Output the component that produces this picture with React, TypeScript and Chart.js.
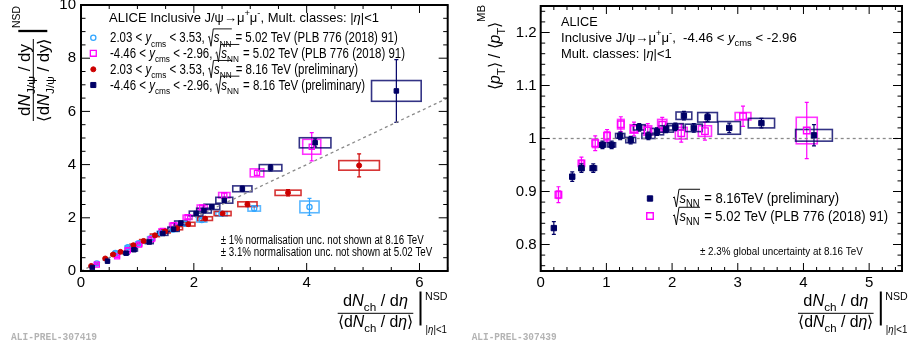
import React, { useEffect, useRef } from 'react';
import { Chart, registerables } from 'chart.js';
Chart.register(...registerables);

const FONT = '"Liberation Sans", Arial, Helvetica, sans-serif';

// ---------------- Left panel: relative J/psi yield vs relative multiplicity ----------------
// 2.03 < y < 3.53, 5.02 TeV (open circles, light blue)
const lbX = [0.28, 0.61, 0.83, 1.02, 1.24, 1.42, 1.63, 1.84, 2.14, 2.49, 3.07, 4.05];
const lbY = [0.28, 0.68, 0.89, 1.04, 1.23, 1.43, 1.56, 1.78, 1.92, 2.15, 2.35, 2.41];
const lbStat = [0.03, 0.04, 0.04, 0.05, 0.05, 0.05, 0.06, 0.06, 0.07, 0.08, 0.1, 0.32];
const lbSysX = [0.02, 0.04, 0.05, 0.05, 0.06, 0.07, 0.08, 0.09, 0.09, 0.1, 0.11, 0.17];
const lbSysY = [0.03, 0.04, 0.05, 0.05, 0.06, 0.06, 0.07, 0.07, 0.08, 0.08, 0.1, 0.22];

// -4.46 < y < -2.96, 5.02 TeV (open squares, magenta)
const mgX = [0.28, 0.64, 0.83, 1.03, 1.25, 1.45, 1.64, 1.89, 2.15, 2.54, 3.12, 4.09];
const mgY = [0.24, 0.55, 0.78, 0.99, 1.2, 1.51, 1.72, 2.02, 2.39, 2.85, 3.69, 4.67];
const mgStat = [0.02, 0.03, 0.04, 0.04, 0.05, 0.05, 0.06, 0.06, 0.07, 0.08, 0.1, 0.53];
const mgSysX = [0.02, 0.04, 0.05, 0.05, 0.06, 0.07, 0.07, 0.08, 0.09, 0.1, 0.12, 0.16];
const mgSysY = [0.02, 0.04, 0.05, 0.05, 0.06, 0.07, 0.08, 0.08, 0.09, 0.1, 0.15, 0.28];

// 2.03 < y < 3.53, 8.16 TeV (filled circles, red)
const rdX = [0.18, 0.43, 0.57, 0.7, 0.93, 1.11, 1.31, 1.49, 1.7, 1.9, 2.2, 2.51, 2.95, 3.67, 4.93];
const rdY = [0.19, 0.47, 0.62, 0.72, 0.97, 1.13, 1.34, 1.49, 1.61, 1.76, 1.97, 2.16, 2.51, 2.94, 3.97];
const rdStat = [0.02, 0.03, 0.03, 0.03, 0.04, 0.04, 0.05, 0.05, 0.05, 0.06, 0.06, 0.07, 0.09, 0.12, 0.43];
const rdSysX = [0.01, 0.03, 0.04, 0.04, 0.06, 0.07, 0.08, 0.09, 0.1, 0.12, 0.13, 0.15, 0.17, 0.23, 0.36];
const rdSysY = [0.02, 0.03, 0.03, 0.03, 0.04, 0.05, 0.05, 0.06, 0.06, 0.07, 0.07, 0.08, 0.09, 0.1, 0.18];

// -4.46 < y < -2.96, 8.16 TeV (filled squares, navy)
const nvX = [0.2, 0.47, 0.8, 0.94, 1.21, 1.45, 1.64, 1.77, 2.04, 2.18, 2.32, 2.54, 2.86, 3.36, 4.15, 5.59];
const nvY = [0.13, 0.37, 0.67, 0.8, 1.09, 1.41, 1.57, 1.8, 2.16, 2.27, 2.41, 2.66, 3.09, 3.88, 4.82, 6.77];
const nvStat = [0.02, 0.03, 0.04, 0.04, 0.05, 0.05, 0.06, 0.06, 0.07, 0.07, 0.08, 0.08, 0.1, 0.12, 0.15, 1.18];
const nvSysX = [0.01, 0.03, 0.05, 0.06, 0.07, 0.09, 0.1, 0.11, 0.12, 0.13, 0.14, 0.15, 0.17, 0.2, 0.28, 0.44];
const nvSysY = [0.01, 0.02, 0.04, 0.05, 0.06, 0.07, 0.08, 0.08, 0.09, 0.09, 0.1, 0.11, 0.11, 0.12, 0.19, 0.39];

const diagX = [0, 6.5];
const diagY = [0, 6.5];
const leftXTicks = [0, 2, 4, 6];
const leftYTicks = [0, 2, 4, 6, 8, 10];

// ---------------- Right panel: <pT>/<pT>MB vs relative multiplicity ----------------
const pnX = [0.2, 0.48, 0.62, 0.8, 0.94, 1.08, 1.21, 1.37, 1.5, 1.64, 1.77, 1.91, 2.05, 2.18, 2.33, 2.54, 2.87, 3.36, 4.16];
const pnY = [0.831, 0.928, 0.944, 0.944, 0.988, 0.988, 1.005, 0.997, 1.021, 1.005, 1.013, 1.018, 1.022, 1.043, 1.02, 1.04, 1.02, 1.029, 1.006];
const pnStat = [0.012, 0.009, 0.008, 0.008, 0.007, 0.007, 0.007, 0.007, 0.007, 0.007, 0.007, 0.007, 0.007, 0.008, 0.008, 0.008, 0.009, 0.009, 0.02];
const pnSysX = [0.01, 0.03, 0.04, 0.05, 0.05, 0.06, 0.07, 0.075, 0.09, 0.1, 0.1, 0.11, 0.12, 0.12, 0.13, 0.15, 0.17, 0.2, 0.28];
const pnSysY = [0.003, 0.004, 0.004, 0.004, 0.004, 0.004, 0.0045, 0.005, 0.005, 0.005, 0.006, 0.006, 0.006, 0.007, 0.007, 0.009, 0.012, 0.009, 0.011];

const pmX = [0.27, 0.62, 0.83, 1.01, 1.22, 1.42, 1.63, 1.85, 2.14, 2.5, 3.08, 4.05];
const pmY = [0.894, 0.953, 0.991, 1.005, 1.027, 1.018, 1.015, 1.026, 1.01, 1.014, 1.042, 1.015];
const pmStat = [0.015, 0.012, 0.014, 0.012, 0.014, 0.013, 0.013, 0.014, 0.017, 0.017, 0.019, 0.053];
const pmSysX = [0.03, 0.03, 0.04, 0.04, 0.05, 0.06, 0.06, 0.07, 0.09, 0.1, 0.12, 0.16];
const pmSysY = [0.007, 0.006, 0.008, 0.008, 0.009, 0.008, 0.009, 0.01, 0.011, 0.01, 0.007, 0.025];

const unityX = [0, 5.5];
const unityY = [1, 1];
const rightXTicks = [0, 1, 2, 3, 4, 5];
const rightYTicks = [0.8, 0.9, 1, 1.1, 1.2];

// colours
const C_LB = '#33a6ff';
const C_MG = '#ff00ff';
const C_RD = '#cc0000';
const C_NV = '#000066';

// ---------------- rich text helpers ----------------
type Seg = { t: string; k: string; dy?: number };
const N = (t: string): Seg => ({ t, k: 'n' });
const It = (t: string): Seg => ({ t, k: 'i' });
const Sub = (t: string): Seg => ({ t, k: 'sub' });
const Sup = (t: string, dy?: number): Seg => ({ t, k: 'sup', dy });
const RO: Seg = { t: '', k: 'ro' };
const RC: Seg = { t: '', k: 'rc' };

function fnt(size: number, italic: boolean) {
  return `${italic ? 'italic ' : ''}${size}px ${FONT}`;
}

function runRich(ctx: CanvasRenderingContext2D, segs: Seg[], size: number, draw: boolean) {
  let x = 0;
  let radStart = 0;
  for (const g of segs) {
    if (g.k === 'ro') {
      if (draw) {
        ctx.beginPath();
        ctx.moveTo(x, -0.36 * size);
        ctx.lineTo(x + 0.1 * size, -0.44 * size);
        ctx.lineTo(x + 0.26 * size, 0.28 * size);
        ctx.lineTo(x + 0.46 * size, -0.98 * size);
        ctx.stroke();
      }
      radStart = x + 0.46 * size;
      x += 0.5 * size;
      continue;
    }
    if (g.k === 'rc') {
      if (draw) {
        ctx.beginPath();
        ctx.moveTo(radStart, -0.98 * size);
        ctx.lineTo(x + 0.04 * size, -0.98 * size);
        ctx.stroke();
      }
      x += 0.08 * size;
      continue;
    }
    const small = g.k === 'sub' || g.k === 'sup';
    const s = small ? size * 0.72 : size;
    ctx.font = fnt(s, g.k === 'i');
    const dy = g.dy !== undefined ? g.dy * size : g.k === 'sub' ? 0.32 * size : g.k === 'sup' ? -0.42 * size : 0;
    if (draw) ctx.fillText(g.t, x, dy);
    x += ctx.measureText(g.t).width;
  }
  return x;
}

function drawRich(ctx: CanvasRenderingContext2D, x: number, y: number, segs: Seg[], size: number, align: string = 'left', width?: number) {
  ctx.save();
  ctx.textAlign = 'left';
  ctx.textBaseline = 'alphabetic';
  ctx.fillStyle = '#000';
  ctx.strokeStyle = '#000';
  ctx.lineWidth = Math.max(0.8, size / 14);
  const w = runRich(ctx, segs, size, false);
  const sx = width ? width / w : 1;
  const W = w * sx;
  const x0 = align === 'center' ? x - W / 2 : align === 'right' ? x - W : x;
  ctx.translate(x0, y);
  ctx.scale(sx, 1);
  runRich(ctx, segs, size, true);
  ctx.restore();
}

function line(ctx: CanvasRenderingContext2D, x0: number, y0: number, x1: number, y1: number) {
  ctx.beginPath();
  ctx.moveTo(x0, y0);
  ctx.lineTo(x1, y1);
  ctx.stroke();
}

function marker(ctx: CanvasRenderingContext2D, x: number, y: number, style: string, r: number, color: string, filled: boolean, bw: number) {
  ctx.save();
  ctx.lineWidth = bw;
  ctx.strokeStyle = color;
  ctx.fillStyle = color;
  ctx.beginPath();
  if (style === 'circle') ctx.arc(x, y, r, 0, Math.PI * 2);
  else {
    const h = r * Math.SQRT1_2;
    ctx.rect(x - h, y - h, 2 * h, 2 * h);
  }
  if (filled) ctx.fill();
  ctx.stroke();
  ctx.restore();
}

function watermark(ctx: CanvasRenderingContext2D, text: string, x: number, y: number, w: number) {
  ctx.save();
  ctx.font = `bold 10px "Liberation Mono", "DejaVu Sans Mono", monospace`;
  ctx.fillStyle = '#b4b4b4';
  ctx.textBaseline = 'alphabetic';
  ctx.fillText(text, x, y, w);
  ctx.restore();
}

function xTitle(ctx: CanvasRenderingContext2D, cx: number) {
  const ly = 313.3;
  drawRich(ctx, cx, 306, [N('d'), It('N'), Sub('ch'), N(' / d'), It('η')], 16, 'center', 65);
  ctx.save();
  ctx.strokeStyle = '#000';
  ctx.lineWidth = 1;
  line(ctx, cx - 37.8, ly, cx + 37.8, ly);
  ctx.lineWidth = 2;
  line(ctx, cx + 45, 291.5, cx + 45, 325.5);
  ctx.restore();
  drawRich(ctx, cx, 327, [N('⟨d'), It('N'), Sub('ch'), N(' / d'), It('η'), N('⟩')], 16, 'center', 75);
  drawRich(ctx, cx + 49.5, 299.5, [N('NSD')], 10.5, 'left', 22.5);
  drawRich(ctx, cx + 50, 332.5, [N('|'), It('η'), N('|<1')], 10, 'left', 21.5);
}

// ---------------- chart plumbing ----------------
const pts = (xs: number[], ys: number[]) => xs.map((x, i) => ({ x, y: ys[i] }));

function series(label: string, xs: number[], ys: number[], stat: number[], sx: number[], sy: number[], color: string, style: string, radius: number, filled: boolean, bw: number, order: number) {
  return {
    type: 'scatter',
    label,
    data: pts(xs, ys),
    pointStyle: style,
    pointRadius: radius,
    pointHoverRadius: radius,
    backgroundColor: filled ? color : 'rgba(0,0,0,0)',
    borderColor: color,
    borderWidth: bw,
    errY: stat,
    sysX: sx,
    sysY: sy,
    order,
  };
}

function refLine(xs: number[], ys: number[]) {
  return {
    type: 'line',
    data: pts(xs, ys),
    borderColor: '#8a8a8a',
    borderWidth: 1.3,
    borderDash: [3, 3],
    pointRadius: 0,
    showLine: true,
    fill: false,
    order: 20,
  };
}

const errPlugin = {
  id: 'errBoxes',
  beforeDatasetsDraw(chart: any) {
    const { ctx, chartArea: a, scales } = chart;
    const x = scales.x;
    const y = scales.y;
    ctx.save();
    ctx.beginPath();
    ctx.rect(a.left, a.top, a.right - a.left, a.bottom - a.top);
    ctx.clip();
    chart.data.datasets.forEach((ds: any) => {
      if (!ds.errY) return;
      ds.data.forEach((p: any, i: number) => {
        const x0 = x.getPixelForValue(p.x - ds.sysX[i]);
        const x1 = x.getPixelForValue(p.x + ds.sysX[i]);
        const y0 = y.getPixelForValue(p.y + ds.sysY[i]);
        const y1 = y.getPixelForValue(p.y - ds.sysY[i]);
        ctx.globalAlpha = 0.8;
        ctx.strokeStyle = ds.borderColor;
        ctx.lineWidth = 1.6;
        ctx.strokeRect(x0, y0, x1 - x0, y1 - y0);
        ctx.globalAlpha = 1;
        const px = x.getPixelForValue(p.x);
        const e0 = y.getPixelForValue(p.y + ds.errY[i]);
        const e1 = y.getPixelForValue(p.y - ds.errY[i]);
        ctx.lineWidth = 1.2;
        line(ctx, px, e0, px, e1);
        line(ctx, px - 2, e0, px + 2, e0);
        line(ctx, px - 2, e1, px + 2, e1);
      });
    });
    ctx.restore();
  },
};

function frameAndTicks(chart: any, xMinor: number, xMajor: number, yMinor: number, yMajor: number) {
  const { ctx, chartArea: a, scales } = chart;
  const x = scales.x;
  const y = scales.y;
  ctx.save();
  ctx.strokeStyle = '#000';
  ctx.lineWidth = 1;
  const isMaj = (v: number, m: number) => Math.abs(v / m - Math.round(v / m)) < 1e-6;
  for (let k = Math.ceil(x.min / xMinor - 1e-9); k * xMinor <= x.max + 1e-9; k++) {
    const v = k * xMinor;
    const L = isMaj(v, xMajor) ? 8 : 4;
    const px = x.getPixelForValue(v);
    line(ctx, px, a.bottom, px, a.bottom - L);
    line(ctx, px, a.top, px, a.top + L);
  }
  for (let k = Math.ceil(y.min / yMinor - 1e-9); k * yMinor <= y.max + 1e-9; k++) {
    const v = k * yMinor;
    const L = isMaj(v, yMajor) ? 9 : 4.5;
    const py = y.getPixelForValue(v);
    line(ctx, a.left, py, a.left + L, py);
    line(ctx, a.right, py, a.right - L, py);
  }
  ctx.lineWidth = 2;
  ctx.strokeRect(a.left, a.top, a.right - a.left, a.bottom - a.top);
  ctx.restore();
}

const fmt = (v: any) => String(Math.round(Number(v) * 1000) / 1000);

function options(xmin: number, xmax: number, xTicks: number[], ymin: number, ymax: number, yTicks: number[], yWidth: number, rightPad: number, yPad: number) {
  return {
    responsive: false,
    animation: false,
    devicePixelRatio: 1,
    events: [],
    layout: { padding: { left: 0, right: rightPad, top: 5, bottom: 0 } },
    plugins: { legend: { display: false }, tooltip: { enabled: false } },
    scales: {
      x: {
        type: 'linear',
        min: xmin,
        max: xmax,
        grid: { display: false, drawTicks: false },
        border: { display: false },
        ticks: { color: '#000', font: { size: 15, family: FONT }, padding: 3, maxRotation: 0, autoSkip: false, callback: fmt },
        afterBuildTicks: (s: any) => {
          s.ticks = xTicks.map((value) => ({ value }));
        },
        afterFit: (s: any) => {
          s.height = 76;
          s.paddingLeft = 0;
          s.paddingRight = 0;
        },
      },
      y: {
        type: 'linear',
        min: ymin,
        max: ymax,
        grid: { display: false, drawTicks: false },
        border: { display: false },
        ticks: { color: '#000', font: { size: 15, family: FONT }, padding: yPad, autoSkip: false, callback: fmt },
        afterBuildTicks: (s: any) => {
          s.ticks = yTicks.map((value) => ({ value }));
        },
        afterFit: (s: any) => {
          s.width = yWidth;
          s.paddingTop = 0;
          s.paddingBottom = 0;
        },
      },
    },
  };
}

function buildLeft(canvas: HTMLCanvasElement) {
  const deco = {
    id: 'leftDeco',
    afterDraw(chart: any) {
      const ctx = chart.ctx as CanvasRenderingContext2D;
      frameAndTicks(chart, 0.5, 2, 0.5, 2);
      drawRich(ctx, 109, 21.5, [N('ALICE Inclusive J/ψ→μ'), Sup('+'), N('μ'), Sup('-'), N(', Mult. classes: |'), It('η'), N('|<1')], 13.5, 'left', 270);
      marker(ctx, 93.3, 37.7, 'circle', 2.6, C_LB, false, 1.3);
      marker(ctx, 93.3, 53.3, 'rect', 4.2, C_MG, false, 1.3);
      marker(ctx, 93.3, 69.3, 'circle', 2.5, C_RD, true, 1);
      marker(ctx, 93.3, 85, 'rect', 3.6, C_NV, true, 1);
      const L = 13.8;
      drawRich(ctx, 110, 42.4, [N('2.03 < '), It('y'), Sub('cms'), N(' < 3.53, '), RO, It('s'), Sub('NN'), RC, N(' = 5.02 TeV (PLB 776 (2018) 91)')], L, 'left', 287.7);
      drawRich(ctx, 110, 58, [N('-4.46 < '), It('y'), Sub('cms'), N(' < -2.96, '), RO, It('s'), Sub('NN'), RC, N(' = 5.02 TeV (PLB 776 (2018) 91)')], L, 'left', 295);
      drawRich(ctx, 110, 74, [N('2.03 < '), It('y'), Sub('cms'), N(' < 3.53, '), RO, It('s'), Sub('NN'), RC, N(' = 8.16 TeV (preliminary)')], L, 'left', 248);
      drawRich(ctx, 110, 89.7, [N('-4.46 < '), It('y'), Sub('cms'), N(' < -2.96, '), RO, It('s'), Sub('NN'), RC, N(' = 8.16 TeV (preliminary)')], L, 'left', 255);
      drawRich(ctx, 220.7, 244.3, [N('± 1% normalisation unc. not shown at 8.16 TeV')], 12, 'left', 203);
      drawRich(ctx, 220.7, 256, [N('± 3.1% normalisation unc. not shown at 5.02 TeV')], 12, 'left', 211.6);
      xTitle(ctx, 375.5);
      // y title (rotated)
      ctx.save();
      ctx.translate(33.3, 80);
      ctx.rotate(-Math.PI / 2);
      drawRich(ctx, 0, -3.5, [N('d'), It('N'), Sub('J/ψ'), N(' / dy')], 16, 'center', 72);
      ctx.strokeStyle = '#000';
      ctx.lineWidth = 1;
      line(ctx, -41, 0, 41, 0);
      drawRich(ctx, 0, 15.5, [N('⟨d'), It('N'), Sub('J/ψ'), N(' / dy⟩')], 16, 'center', 83);
      ctx.lineWidth = 2.3;
      line(ctx, 49, -15, 49, 14);
      drawRich(ctx, 52, -13.3, [N('NSD')], 10.5, 'left', 22);
      ctx.restore();
      watermark(ctx, 'ALI-PREL-307419', 11, 340, 86);
    },
  };
  return new Chart(canvas, {
    type: 'scatter',
    data: {
      datasets: [
        refLine(diagX, diagY),
        series('lb', lbX, lbY, lbStat, lbSysX, lbSysY, C_LB, 'circle', 2.6, false, 1.3, 4),
        series('mg', mgX, mgY, mgStat, mgSysX, mgSysY, C_MG, 'rect', 3.6, false, 1.3, 3),
        series('rd', rdX, rdY, rdStat, rdSysX, rdSysY, C_RD, 'circle', 2.5, true, 1, 2),
        series('nv', nvX, nvY, nvStat, nvSysX, nvSysY, C_NV, 'rect', 3.2, true, 1, 1),
      ],
    } as any,
    options: options(0, 6.5, leftXTicks, 0, 10, leftYTicks, 81, 6.3, 5) as any,
    plugins: [errPlugin, deco],
  });
}

function buildRight(canvas: HTMLCanvasElement) {
  const deco = {
    id: 'rightDeco',
    afterDraw(chart: any) {
      const ctx = chart.ctx as CanvasRenderingContext2D;
      frameAndTicks(chart, 0.2, 1, 0.02, 0.1);
      drawRich(ctx, 107, 26, [N('ALICE')], 13.5, 'left', 36.7);
      drawRich(ctx, 107, 41.7, [N('Inclusive J/ψ→μ'), Sup('+'), N('μ'), Sup('-'), N(',  -4.46 < '), It('y'), Sub('cms'), N(' < -2.96')], 13.5, 'left', 235.7);
      drawRich(ctx, 107, 57.5, [N('Mult. classes: |'), It('η'), N('|<1')], 13.5, 'left', 110.7);
      marker(ctx, 196, 198.5, 'rect', 3.8, C_NV, true, 1);
      marker(ctx, 196, 216, 'rect', 4.6, C_MG, false, 1.4);
      drawRich(ctx, 219, 203, [RO, It('s'), Sub('NN'), RC, N(' = 8.16TeV (preliminary)')], 14, 'left', 166);
      drawRich(ctx, 219, 221, [RO, It('s'), Sub('NN'), RC, N(' = 5.02 TeV (PLB 776 (2018) 91)')], 14, 'left', 215);
      drawRich(ctx, 246, 255, [N('± 2.3% global uncertainty at 8.16 TeV')], 11.5, 'left', 162.7);
      xTitle(ctx, 381.8);
      ctx.save();
      ctx.translate(45.5, 90);
      ctx.rotate(-Math.PI / 2);
      drawRich(ctx, 0, 0, [N('⟨'), It('p'), Sub('T'), N('⟩ / ⟨'), It('p'), Sub('T'), N('⟩'), Sup('MB', -0.9)], 16, 'left', 85);
      ctx.restore();
      watermark(ctx, 'ALI-PREL-307439', 17.7, 340, 85);
    },
  };
  return new Chart(canvas, {
    type: 'scatter',
    data: {
      datasets: [
        refLine(unityX, unityY),
        series('pm', pmX, pmY, pmStat, pmSysX, pmSysY, C_MG, 'rect', 4.6, false, 1.4, 2),
        series('pn', pnX, pnY, pnStat, pnSysX, pnSysY, C_NV, 'rect', 3.8, true, 1, 1),
      ],
    } as any,
    options: options(0, 5.5, rightXTicks, 0.75, 1.25, rightYTicks, 86.7, 0.3, 4) as any,
    plugins: [errPlugin, deco],
  });
}

function Panel({ build, left }: { build: (c: HTMLCanvasElement) => Chart; left: number }) {
  const ref = useRef<HTMLCanvasElement>(null);
  useEffect(() => {
    const ch = build(ref.current as HTMLCanvasElement);
    return () => ch.destroy();
  }, []);
  return (
    <canvas
      ref={ref}
      width={454}
      height={347}
      style={{ position: 'absolute', left, top: 0, width: 454, height: 347 }}
    />
  );
}

export default function App() {
  return (
    <div style={{ position: 'absolute', left: 0, top: 0, width: 908, height: 347, background: '#fff', overflow: 'hidden' }}>
      <Panel build={buildLeft} left={0} />
      <Panel build={buildRight} left={454} />
    </div>
  );
}
